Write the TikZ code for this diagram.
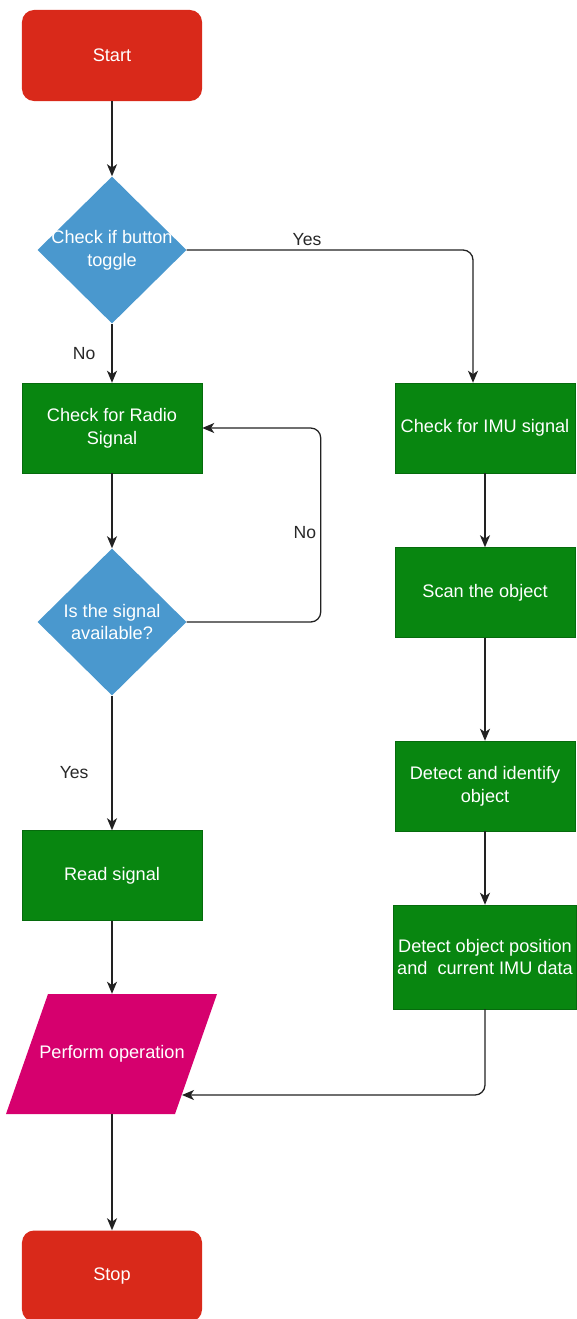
\documentclass[tikz,border=0pt]{standalone}
\usepackage{fontspec}
\setmainfont{Liberation Sans}
\usetikzlibrary{shapes.geometric,arrows.meta}
\definecolor{termred}{RGB}{217,41,26}
\definecolor{procgreen}{RGB}{8,134,16}
\definecolor{decblue}{RGB}{74,152,206}
\definecolor{iomagenta}{RGB}{214,0,110}
\definecolor{linegray}{RGB}{34,34,34}
\definecolor{labelgray}{RGB}{40,40,40}

\begin{document}
\begin{tikzpicture}[x=0.03cm, y=-0.03cm,
        boxtext/.style={
          text=white, align=center, font=\fontsize{15.5}{19.4}\selectfont
        },
        terminal/.style={
          boxtext, rectangle, rounded corners=0.36cm, fill=termred,
          minimum width=5.4cm, minimum height=2.73cm
        },
        process/.style={
          boxtext, rectangle, fill=procgreen, draw=procgreen!80!black,
          minimum width=5.4cm, minimum height=2.7cm
        },
        decision/.style={
          boxtext, diamond, fill=decblue, inner sep=0pt,
          minimum width=4.47cm, minimum height=4.41cm
        },
        inout/.style={
          boxtext, rectangle, inner sep=0pt,
          minimum width=5.07cm, minimum height=3.6cm
        },
        flow/.style={
          draw=linegray, line width=1.1pt, rounded corners=0.3cm,
          -{Stealth[length=0.36cm,width=0.3cm,inset=0.1cm]}
        },
        lbl/.style={
          text=labelgray, font=\fontsize{15}{18}\selectfont
        }
      ]
      \useasboundingbox (0,0) rectangle (576,1319);
      \fill [iomagenta] (48,994) -- (217,994) -- (175,1114) -- (6,1114) -- cycle;
      \node [terminal] (start) at (112,55.5) {Start};
      \node [decision] (button) at (112,250) {\makebox[0pt]{Check if button}\\\makebox[0pt]{toggle}};
      \node [process] (radio) at (112,428) {Check for Radio\\Signal};
      \node [decision] (avail) at (112,622) {\makebox[0pt]{Is the signal}\\\makebox[0pt]{available?}};
      \node [process] (read) at (112,875.5) {Read signal};
      \node [inout] (perform) at (112,1054) {Perform operation};
      \coordinate (perform in) at (182,1095);
      \node [terminal] (stop) at (112,1276) {Stop};

      \node [process] (imu) at (485,428) {Check for IMU signal};
      \node [process] (scan) at (485,592.5) {Scan the object};
      \node [process] (ident) at (485,786) {Detect and identify\\object};
      \node [process, minimum height=3.12cm] (pos) at (485,957) {Detect object position\\and\ \ current IMU data};

      \draw [flow] (start) -- (button);
      \draw [flow] (button) -- (radio) node [lbl, midway, left=0.36cm] (nobtn) {No};
      \draw [flow] (button.east) -| ([xshift=-0.36cm]imu.north) node [lbl, pos=0.21, above] (yesbtn) {Yes};
      \draw [flow] (radio) -- (avail);
      \draw [flow] (avail.east) -- ++(134,0) |- (radio.east) node [lbl, pos=0.23, left] (noavail) {No};
      \draw [flow] (avail) -- (read) node [lbl, pos=0.57, left=0.57cm] (yesavail) {Yes};
      \draw [flow] (read) -- (perform);
      \draw [flow] (perform) -- (stop);
      \draw [flow] (imu) -- (scan);
      \draw [flow] (scan) -- (ident);
      \draw [flow] (ident) -- (pos);
      \draw [flow] (pos.south) |- (perform in);
    \end{tikzpicture}
\end{document}
